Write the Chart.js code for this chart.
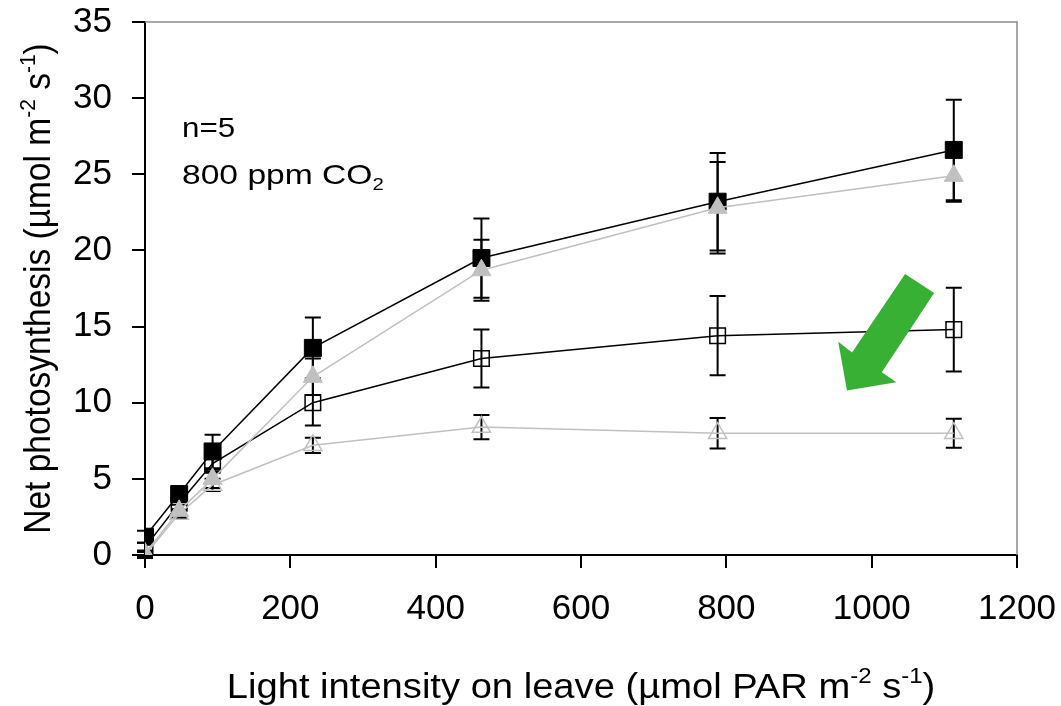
<!DOCTYPE html>
<html>
<head>
<meta charset="utf-8">
<script src="https://cdn.jsdelivr.net/npm/chart.js@4"></script>
<style>
  body { margin: 0; background: #fff; }
  #wrap { width: 1061px; height: 706px; position: relative; }
</style>
</head>
<body>
<div id="wrap"><canvas id="photoChart"></canvas></div>
<script>
// light levels (µmol PAR m-2 s-1)
const lightLevels = [0, 47, 93, 231, 463, 788, 1113];

// net photosynthesis per treatment, with error bars
const filledSquare = [1.2, 4.0, 6.8, 13.6, 19.5, 23.2, 26.6];
const filledSquareErr = [0.4, 0.5, 1.1, 2.0, 2.6, 3.2, 3.3];
const openSquare = [0.5, 3.4, 6.0, 10.0, 12.9, 14.4, 14.8];
const openSquareErr = [0.3, 0.4, 0.6, 1.5, 1.9, 2.6, 2.75];
const filledTriangle = [0.1, 2.9, 5.0, 11.7, 18.7, 22.8, 24.9];
const filledTriangleErr = [0.2, 0.4, 0.6, 1.2, 2.0, 3.0, 1.7];
const openTriangle = [0.0, 2.7, 4.6, 7.2, 8.4, 8.0, 8.0];
const openTriangleErr = [0.2, 0.3, 0.4, 0.5, 0.8, 1.0, 0.95];

const xTicks = [0, 200, 400, 600, 800, 1000, 1200];
const yTicks = [0, 5, 10, 15, 20, 25, 30, 35];

// arrow outline in data units (x, y)
const arrowX = [966, 954, 973, 1046, 1086, 1014, 1034];
const arrowY = [10.8, 14.0, 13.3, 18.45, 17.2, 12.0, 11.35];

const FONT = "'Liberation Sans', Arial, sans-serif";
const GRAY = "#c0c0c0";
const STRETCH = 1.09; // the original picture is a little wider than tall

function pts(values) {
    return values.map((v, i) => ({ x: lightLevels[i], y: v }));
}

// draw text made of normal / sup / sub parts; align "center" or "left"
function drawRich(ctx, parts, x, y, size, align) {
    const small = Math.round(size * 0.62);
    let total = 0;
    parts.forEach(p => {
        ctx.font = (p.sup || p.sub ? small : size) + "px " + FONT;
        p.w = ctx.measureText(p.t).width;
        total += p.w;
    });
    let cx = align === "left" ? 0 : -total / 2;
    parts.forEach(p => {
        ctx.font = (p.sup || p.sub ? small : size) + "px " + FONT;
        let dy = p.sup ? -size * 0.42 : (p.sub ? size * 0.22 : 0);
        ctx.fillText(p.t, x + cx, y + dy);
        cx += p.w;
    });
}

const errorBars = {
    id: "errorBars",
    beforeDatasetsDraw(chart) {
        const ctx = chart.ctx;
        const yScale = chart.scales.y;
        ctx.save();
        ctx.strokeStyle = "#000";
        ctx.lineWidth = 2;
        chart.data.datasets.forEach((ds, di) => {
            const meta = chart.getDatasetMeta(di);
            ds.errors.forEach((e, i) => {
                const p = meta.data[i];
                const top = yScale.getPixelForValue(ds.data[i].y + e);
                const bot = yScale.getPixelForValue(ds.data[i].y - e);
                ctx.beginPath();
                ctx.moveTo(p.x, top); ctx.lineTo(p.x, bot);
                ctx.moveTo(p.x - 8, top); ctx.lineTo(p.x + 8, top);
                ctx.moveTo(p.x - 8, bot); ctx.lineTo(p.x + 8, bot);
                ctx.stroke();
            });
        });
        ctx.restore();
    }
};

const decorations = {
    id: "decorations",
    afterDraw(chart) {
        const ctx = chart.ctx;
        const a = chart.chartArea;
        const xs = chart.scales.x, ys = chart.scales.y;
        ctx.save();

        // top and right frame
        ctx.strokeStyle = "#8c8c8c";
        ctx.lineWidth = 1.5;
        ctx.beginPath();
        ctx.moveTo(a.left, a.top); ctx.lineTo(a.right, a.top); ctx.lineTo(a.right, a.bottom);
        ctx.stroke();

        // green arrow
        ctx.fillStyle = "#37b034";
        ctx.beginPath();
        arrowX.forEach((v, i) => {
            const px = xs.getPixelForValue(v), py = ys.getPixelForValue(arrowY[i]);
            if (i === 0) ctx.moveTo(px, py); else ctx.lineTo(px, py);
        });
        ctx.closePath();
        ctx.fill();

        ctx.fillStyle = "#000";
        ctx.textBaseline = "alphabetic";
        ctx.textAlign = "left";

        // annotation text
        ctx.save();
        ctx.translate(a.left + 37, 0);
        ctx.scale(1.12, 1);
        drawRich(ctx, [{ t: "n=5" }], 0, 137, 28, "left");
        ctx.restore();
        ctx.save();
        ctx.translate(a.left + 37, 0);
        ctx.scale(1.2, 1);
        drawRich(ctx, [{ t: "800 ppm CO" }, { t: "2", sub: true }], 0, 184, 28, "left");
        ctx.restore();

        // x axis title
        ctx.save();
        ctx.translate((a.left + a.right) / 2, 0);
        ctx.scale(STRETCH, 1);
        drawRich(ctx, [
            { t: "Light intensity on leave (µmol PAR m" }, { t: "-2", sup: true },
            { t: " s" }, { t: "-1", sup: true }, { t: ")" }
        ], 0, 698, 35, "center");
        ctx.restore();

        // y axis title
        ctx.translate(50, (a.top + a.bottom) / 2);
        ctx.rotate(-Math.PI / 2);
        ctx.scale(1, STRETCH);
        drawRich(ctx, [
            { t: "Net photosynthesis (µmol m" }, { t: "-2", sup: true },
            { t: " s" }, { t: "-1", sup: true }, { t: ")" }
        ], 0, 0, 33.5, "center");
        ctx.restore();
    }
};

function createChart() {
    const ctx = document.getElementById("photoChart").getContext("2d");
    new Chart(ctx, {
        type: "line",
        data: {
            datasets: [
                {
                    data: pts(filledTriangle), errors: filledTriangleErr, order: 1,
                    borderColor: GRAY, borderWidth: 1.5, pointStyle: "triangle",
                    pointRadius: 11, pointBackgroundColor: GRAY, pointBorderColor: GRAY, pointBorderWidth: 1
                },
                {
                    data: pts(openTriangle), errors: openTriangleErr, order: 2,
                    borderColor: GRAY, borderWidth: 1.5, pointStyle: "triangle",
                    pointRadius: 10.5, pointBackgroundColor: "rgba(0,0,0,0)", pointBorderColor: GRAY, pointBorderWidth: 1.5
                },
                {
                    data: pts(filledSquare), errors: filledSquareErr, order: 3,
                    borderColor: "#000", borderWidth: 1.5, pointStyle: "rect",
                    pointRadius: 12, pointBackgroundColor: "#000", pointBorderColor: "#000", pointBorderWidth: 1
                },
                {
                    data: pts(openSquare), errors: openSquareErr, order: 4,
                    borderColor: "#000", borderWidth: 1.5, pointStyle: "rect",
                    pointRadius: 11, pointBackgroundColor: "rgba(0,0,0,0)", pointBorderColor: "#000", pointBorderWidth: 1.5
                }
            ]
        },
        options: {
            responsive: true,
            maintainAspectRatio: false,
            animation: false,
            layout: { padding: { top: 22, right: 44, left: 0, bottom: 0 } },
            plugins: { legend: { display: false }, tooltip: { enabled: false } },
            scales: {
                x: {
                    type: "linear", min: 0, max: 1200,
                    afterBuildTicks: s => { s.ticks = xTicks.map(v => ({ value: v })); },
                    afterFit: s => { s.height = 151; s.paddingLeft = 0; s.paddingRight = 0; },
                    ticks: { color: "#000", font: { family: FONT, size: 35 }, padding: 20, maxRotation: 0,
                             callback: v => String(v) },
                    grid: { drawOnChartArea: false, drawTicks: true, tickLength: 13, color: "#000", lineWidth: 2 },
                    border: { color: "#000", width: 2 }
                },
                y: {
                    min: 0, max: 35,
                    afterBuildTicks: s => { s.ticks = yTicks.map(v => ({ value: v })); },
                    afterFit: s => { s.width = 145; s.paddingTop = 0; s.paddingBottom = 0; },
                    ticks: { color: "#000", font: { family: FONT, size: 35 }, padding: 20 },
                    grid: { drawOnChartArea: false, drawTicks: true, tickLength: 13, color: "#000", lineWidth: 2 },
                    border: { color: "#000", width: 2 }
                }
            }
        },
        plugins: [errorBars, decorations]
    });
}

document.addEventListener("DOMContentLoaded", createChart);
</script>
</body>
</html>
